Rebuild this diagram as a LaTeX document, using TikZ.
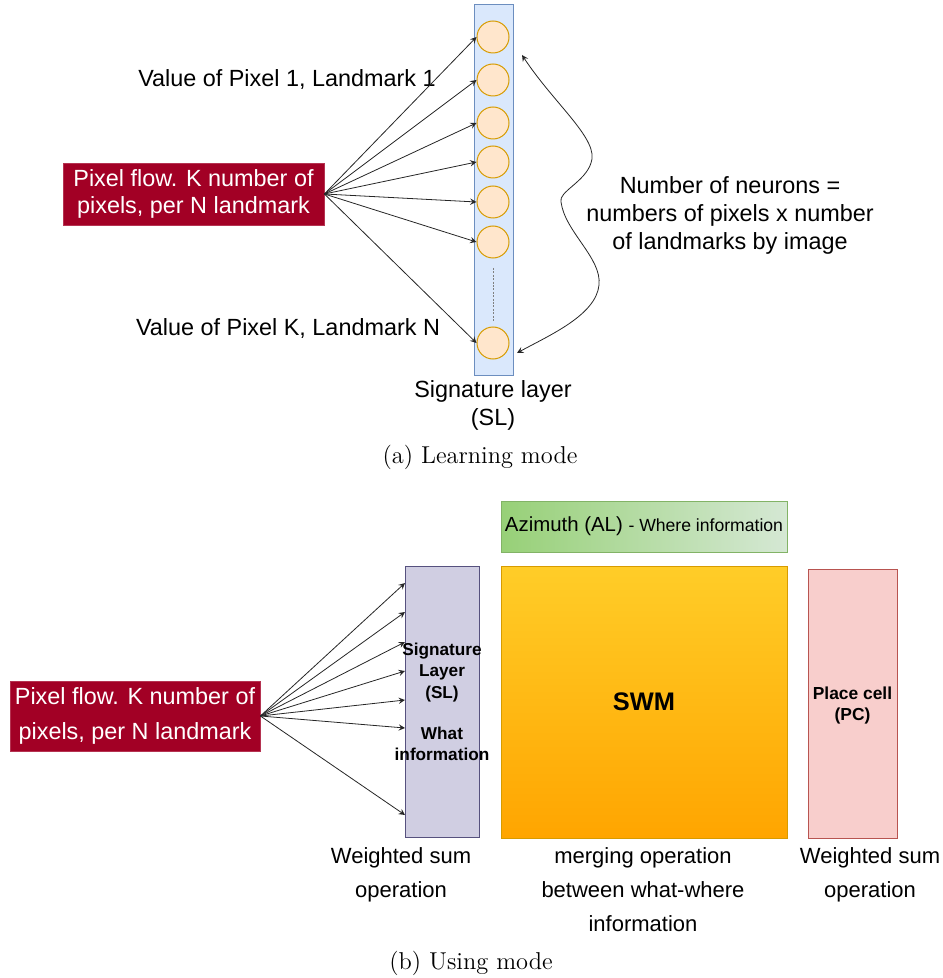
\documentclass[tikz,border=0pt]{standalone}
\usepackage{fontspec}
\newfontfamily\arialfont{Liberation Sans}
\definecolor{slblue}{HTML}{DAE8FC}
\definecolor{slbluedraw}{HTML}{6C8EBF}
\definecolor{neuronfill}{HTML}{FFE6CC}
\definecolor{neurondraw}{HTML}{D79B00}
\definecolor{flowred}{HTML}{A20025}
\definecolor{slpurple}{HTML}{D0CEE2}
\definecolor{slpurpledraw}{HTML}{56517E}
\definecolor{azgreen}{HTML}{97D077}
\definecolor{azlight}{HTML}{D5E8D4}
\definecolor{azdraw}{HTML}{82B366}
\definecolor{swmtop}{HTML}{FFCD28}
\definecolor{swmbottom}{HTML}{FFA500}
\definecolor{swmdraw}{HTML}{D79B00}
\definecolor{pcfill}{HTML}{F8CECC}
\definecolor{pcdraw}{HTML}{B85450}
\begin{document}
\begin{tikzpicture}[
        x=0.5pt, y=-0.5pt,
        every node/.style={font=\arialfont\fontsize{11.7}{14}\selectfont},
        layerbox/.style={rectangle, draw, inner sep=0pt, line width=0.5pt},
        neuron/.style={circle, minimum size=16pt, inner sep=0pt,
            fill=neuronfill, draw=neurondraw, line width=0.5pt},
        flowbox/.style={rectangle, inner sep=0pt, align=center,
            fill=flowred, draw=flowred!80!white, text=white},
        boldtext/.style={align=center,
            font=\arialfont\bfseries\fontsize{8.6}{10.75}\selectfont},
        label/.style={align=center, inner sep=0pt},
        arrow/.style={->, >=stealth, line width=0.4pt, draw=black!85},
        caption/.style={font=\rmfamily\fontsize{12.2}{14}\selectfont}
      ]
      \useasboundingbox (0,0) rectangle (942,978);
      \node[layerbox, fill=slblue, draw=slbluedraw,
        minimum width=19.5pt, minimum height=185pt] (sl) at (493.5,190) {};
      \node[neuron] (n1) at (493,37) {};
      \node[neuron] (n2) at (493,80) {};
      \node[neuron] (n3) at (493,123) {};
      \node[neuron] (n4) at (493,162) {};
      \node[neuron] (n5) at (493,202) {};
      \node[neuron] (n6) at (493,242) {};
      \node[neuron] (nk) at (493,343) {};
      \draw[dash pattern=on 1pt off 0.7pt, line width=0.3pt, gray] (n6) ++(0,26) coordinate (dtop)
        -- ++(0,54) coordinate (dbot);
      \node[flowbox, minimum width=130.5pt, minimum height=31pt,
        font=\arialfont\fontsize{11.7}{13.5}\selectfont]
      (flow1) at (193.5,194) {Pixel flow. K number of\\pixels, per N landmark};
      \node[label] (v1) at (287,80) {Value of Pixel 1, Landmark 1};
      \node[label] (vk) at (288,329) {Value of Pixel K, Landmark N};
      \draw[arrow] (flow1.east) -- (n1.west);
      \draw[arrow] (flow1.east) -- (n2.west);
      \draw[arrow] (flow1.east) -- (n3.west);
      \draw[arrow] (flow1.east) -- (n4.west);
      \draw[arrow] (flow1.east) -- (n5.west);
      \draw[arrow] (flow1.east) -- (n6.west);
      \draw[arrow] (flow1.east) -- (nk.west);
      \coordinate (ctop) at (522,55);
      \coordinate (cbot) at (517,353);
      \draw[arrow, <->] (ctop) .. controls (555,105) and (600,140) .. (591,163)
        .. controls (585,182) and (558,192) .. (561,202)
        .. controls (565,232) and (602,258) .. (599,285)
        .. controls (596,315) and (550,335) .. (cbot);
      \node[label] (count) at (730,215)
      {Number of neurons =\\numbers of pixels x number\\of landmarks by image};
      \node[label] (slname) at (493,405) {Signature layer\\(SL)};
      \node[caption] (capa) at (480,457) {(a) Learning mode};
      \node[layerbox, left color=azgreen, right color=azlight, draw=azdraw,
        minimum width=143pt, minimum height=25.5pt,
        font=\arialfont\fontsize{10.2}{12}\selectfont]
      (az) at (644,526.5)
      {Azimuth (AL) {\fontsize{8.8}{10}\selectfont - Where information}};
      \node[layerbox, top color=swmtop, bottom color=swmbottom, draw=swmdraw,
        minimum width=143pt, minimum height=136pt,
        font=\arialfont\bfseries\fontsize{12.7}{15}\selectfont]
      (swm) at (644,702) {SWM};
      \node[layerbox, fill=pcfill, draw=pcdraw,
        minimum width=44.5pt, minimum height=134.5pt] (pc) at (852.5,703.5) {};
      \node[boldtext, font=\arialfont\bfseries\fontsize{8.7}{10.5}\selectfont]
      (pctext) at (852.5,705) {Place cell\\(PC)};
      \node[layerbox, fill=slpurple, draw=slpurpledraw,
        minimum width=37pt, minimum height=135.5pt] (sl2) at (442,701.5) {};
      \node[boldtext] (sltext) at (442,702)
      {Signature\\Layer\\(SL)\\[9.75pt]What\\information};
      \node[flowbox, minimum width=125pt, minimum height=35pt,
        font=\arialfont\fontsize{11.7}{17.5}\selectfont]
      (flow2) at (135,716) {Pixel flow. K number of\\pixels, per N landmark};
      \coordinate (w1) at (405,583);
      \coordinate (w2) at (405,612);
      \coordinate (w3) at (405,642);
      \coordinate (w4) at (405,671);
      \coordinate (w5) at (405,700);
      \coordinate (w6) at (405,728);
      \coordinate (w7) at (405,815);
      \draw[arrow] (flow2.east) -- (w1);
      \draw[arrow] (flow2.east) -- (w2);
      \draw[arrow] (flow2.east) -- (w3);
      \draw[arrow] (flow2.east) -- (w4);
      \draw[arrow] (flow2.east) -- (w5);
      \draw[arrow] (flow2.east) -- (w6);
      \draw[arrow] (flow2.east) -- (w7);
      \node[label, font=\arialfont\fontsize{11}{17}\selectfont]
      (wsum1) at (401,875) {Weighted sum\\operation};
      \node[label, font=\arialfont\fontsize{11}{17}\selectfont]
      (merge) at (643,890) {merging operation\\between what-where\\information};
      \node[label, font=\arialfont\fontsize{11}{17}\selectfont]
      (wsum2) at (870,875) {Weighted sum\\operation};
      \node[caption] (capb) at (471,963) {(b) Using mode};
    \end{tikzpicture}
\end{document}
